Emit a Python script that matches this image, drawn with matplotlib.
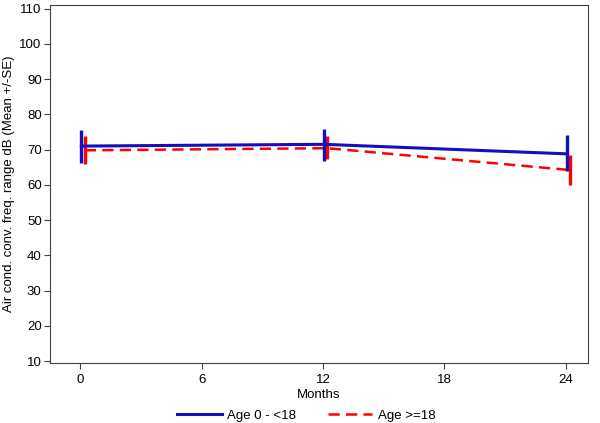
import matplotlib
matplotlib.use("Agg")
import matplotlib.pyplot as plt
import numpy as np
from matplotlib.lines import Line2D

plt.rcParams['font.family'] = ['Liberation Sans', 'DejaVu Sans']

months = [0, 12, 24]
young_mean = [71.0, 71.5, 68.8]
young_lo = [66.3, 66.9, 63.8]
young_hi = [75.6, 75.9, 74.2]
old_mean = [69.8, 70.4, 64.2]
old_lo = [65.8, 67.4, 60.1]
old_hi = [74.0, 74.0, 68.4]
x_ticks = [0, 6, 12, 18, 24]
y_ticks = list(range(10, 111, 10))
labels = ['Age 0 - <18', 'Age >=18']

blue = '#1010c0'
red = '#ff0000'
dash = (0, (4.5, 2.5))

fig = plt.figure(figsize=(6.0, 4.23), dpi=100)
ax = fig.add_axes([50/600, 1-363/423, 538/600, 358/423])

xb = np.array(months, dtype=float) + 0.05
xr = np.array(months, dtype=float) + 0.22

ym = np.array(young_mean)
om = np.array(old_mean)
ax.errorbar(xb, ym, yerr=[ym - np.array(young_lo), np.array(young_hi) - ym],
            color=blue, lw=2.2, elinewidth=2.4, capsize=0, zorder=3)
ax.errorbar(xr, om, yerr=[om - np.array(old_lo), np.array(old_hi) - om],
            color=red, lw=1.8, ls=dash, elinewidth=2.4, capsize=0, zorder=2)

ax.set_xlim(-1.5, 25.1)
ax.set_ylim(9.5, 111)
ax.set_xticks(x_ticks)
ax.set_yticks(y_ticks)
ax.tick_params(axis='both', labelsize=9.5, length=4, width=0.8, color='#404040', pad=2)
ax.tick_params(axis='x', pad=4)
for s in ax.spines.values():
    s.set_color('#404040')
    s.set_linewidth(0.8)
ax.set_xlabel('Months', fontsize=9.5, labelpad=2)
ax.set_ylabel('Air cond. conv. freq. range dB (Mean +/-SE)', fontsize=9.5, labelpad=3)

handles = [Line2D([], [], color=blue, lw=2.2), Line2D([], [], color=red, lw=1.8, ls=dash)]
fig.legend(handles, labels, loc='lower center', bbox_to_anchor=(0.51, -0.025), ncol=2, frameon=False,
           fontsize=9.5, handlelength=3.4, columnspacing=2.4, handletextpad=0.4)

fig.savefig('out.png', dpi=100)
